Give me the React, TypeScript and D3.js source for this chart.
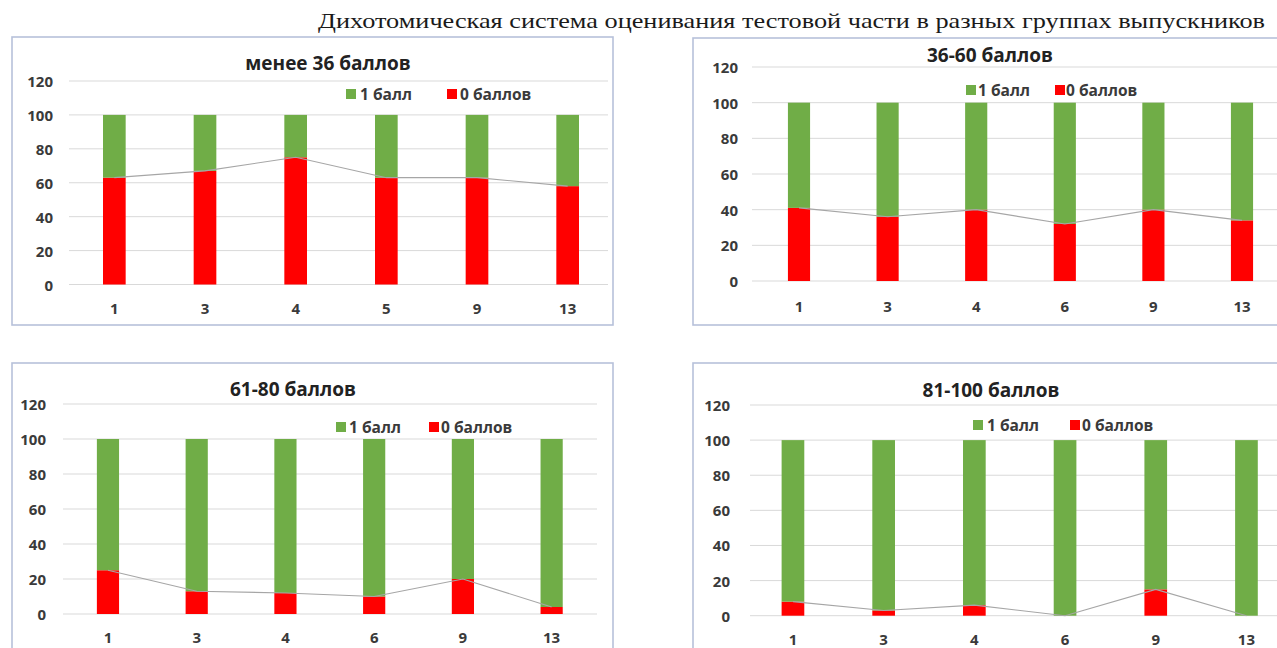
import React from "react";
import * as d3 from "d3";

// Task numbers shown on the x axis
const tasksA = ["1", "3", "4", "5", "9", "13"];
const tasksB = ["1", "3", "4", "6", "9", "13"];

// Group titles
const groupTitles = ["менее 36 баллов", "36-60 баллов", "61-80 баллов", "81-100 баллов"];

// Share of graduates (%) scoring 0 points per task
const zeroLt36 = [63, 67, 75, 63, 63, 58];
const zero36to60 = [41, 36, 40, 32, 40, 34];
const zero61to80 = [25, 13, 12, 10, 20, 4];
const zero81to100 = [8, 3, 6, 0, 15, 0];

// Share of graduates (%) scoring 1 point per task
const oneLt36 = [37, 33, 25, 37, 37, 42];
const one36to60 = [59, 64, 60, 68, 60, 66];
const one61to80 = [75, 87, 88, 90, 80, 96];
const one81to100 = [92, 97, 94, 100, 85, 100];

const yTicks = [0, 20, 40, 60, 80, 100, 120];
const legendLabels = ["1 балл", "0 баллов"];
const mainTitle = "Дихотомическая система оценивания тестовой части в разных группах выпускников";

const GREEN = "#70ad47";
const RED = "#ff0000";
const LABEL_FONT = "'Open Sans', 'Noto Sans', sans-serif";

interface PanelLayout {
  box: [number, number, number, number];
  plotX: [number, number];
  plotY: [number, number]; // y pixel of 0 and of 120
  gridX: [number, number];
  title: [number, number];
  yLabelX: number;
  xLabelY: number;
  legend: [number, number, number, number, number]; // green sq, green text, red sq, red text, y
}

const layouts: PanelLayout[] = [
  {
    box: [12, 37, 601, 288],
    plotX: [69, 613],
    plotY: [284.5, 81],
    gridX: [69, 608],
    title: [328, 63],
    yLabelX: 53,
    xLabelY: 308,
    legend: [346, 360, 447, 460, 94],
  },
  {
    box: [693, 38, 620, 287],
    plotX: [754.7, 1286.3],
    plotY: [281, 67],
    gridX: [752, 1277],
    title: [990, 55],
    yLabelX: 738,
    xLabelY: 306,
    legend: [966, 978, 1055, 1066, 90],
  },
  {
    box: [12, 363, 601, 320],
    plotX: [63.6, 596],
    plotY: [614, 404],
    gridX: [63, 597],
    title: [293, 389],
    yLabelX: 46,
    xLabelY: 637,
    legend: [336, 349, 429, 441, 427],
  },
  {
    box: [693, 363, 620, 320],
    plotX: [747.6, 1291.8],
    plotY: [615.7, 405],
    gridX: [750, 1277],
    title: [991, 390],
    yLabelX: 730,
    xLabelY: 639,
    legend: [973, 987, 1070, 1082, 425],
  },
];

const panels = [
  { title: groupTitles[0], tasks: tasksA, zero: zeroLt36, one: oneLt36 },
  { title: groupTitles[1], tasks: tasksB, zero: zero36to60, one: one36to60 },
  { title: groupTitles[2], tasks: tasksB, zero: zero61to80, one: one61to80 },
  { title: groupTitles[3], tasks: tasksB, zero: zero81to100, one: one81to100 },
];

function Panel({ data, layout }: { data: (typeof panels)[number]; layout: PanelLayout }) {
  const x = d3
    .scaleBand<string>()
    .domain(data.tasks)
    .range(layout.plotX)
    .paddingInner(0.75)
    .paddingOuter(0.375);
  const y = d3.scaleLinear().domain([0, 120]).range(layout.plotY);

  const rows = data.tasks.map((t, i) => ({ task: t, zero: data.zero[i], one: data.one[i] }));
  const stacked = d3.stack<any>().keys(["zero", "one"])(rows);

  const line = d3
    .line<any>()
    .x((d) => (x(d.task) as number) + x.bandwidth() / 2)
    .y((d) => y(d.zero));

  const [bx, by, bw, bh] = layout.box;
  const [gSq, gTx, rSq, rTx, ly] = layout.legend;

  const labelProps = {
    fontFamily: LABEL_FONT,
    fontWeight: 700,
    fill: "#3a3a3a",
    dominantBaseline: "central" as const,
  };

  return (
    <g>
      <rect x={bx} y={by} width={bw} height={bh} fill="#ffffff" stroke="#b7c1da" strokeWidth={1.6} />
      <text x={layout.title[0]} y={layout.title[1]} textAnchor="middle" fontSize={19} {...labelProps} fill="#222222">
        {data.title}
      </text>
      {/* gridlines */}
      {yTicks.map((t) => (
        <line
          key={t}
          x1={layout.gridX[0]}
          x2={layout.gridX[1]}
          y1={y(t)}
          y2={y(t)}
          stroke="#d9d9d9"
          strokeWidth={1}
        />
      ))}
      {yTicks.map((t) => (
        <text key={t} x={layout.yLabelX} y={y(t)} textAnchor="end" fontSize={15} {...labelProps}>
          {t}
        </text>
      ))}
      {/* stacked bars */}
      {stacked.map((series) => (
        <g key={series.key} fill={series.key === "zero" ? RED : GREEN}>
          {series.map((d: any, i: number) => (
            <rect
              key={i}
              x={x(d.data.task)}
              y={y(d[1])}
              width={x.bandwidth()}
              height={Math.max(0, y(d[0]) - y(d[1]))}
            />
          ))}
        </g>
      ))}
      {/* line through the 0-point tops */}
      <path d={line(rows) as string} fill="none" stroke="#a6a6a6" strokeWidth={1.1} />
      {data.tasks.map((t) => (
        <text
          key={t}
          x={(x(t) as number) + x.bandwidth() / 2}
          y={layout.xLabelY}
          textAnchor="middle"
          fontSize={15}
          {...labelProps}
        >
          {t}
        </text>
      ))}
      {/* legend */}
      <rect x={gSq} y={ly - 5} width={10} height={10} fill={GREEN} />
      <text x={gTx} y={ly} fontSize={15.5} {...labelProps}>
        {legendLabels[0]}
      </text>
      <rect x={rSq} y={ly - 5} width={10} height={10} fill={RED} />
      <text x={rTx} y={ly} fontSize={15.5} {...labelProps}>
        {legendLabels[1]}
      </text>
    </g>
  );
}

export default function App() {
  return (
    <svg
      width={1277}
      height={648}
      viewBox="0 0 1277 648"
      style={{ position: "absolute", left: 0, top: 0, background: "#ffffff" }}
    >
      <rect x={0} y={0} width={1277} height={648} fill="#ffffff" />
      <text
        x={318}
        y={21}
        dominantBaseline="central"
        fontFamily="'Liberation Serif', 'DejaVu Serif', serif"
        fontSize={21}
        fill="#1a1a1a"
        textLength={947}
        lengthAdjust="spacingAndGlyphs"
      >
        {mainTitle}
      </text>
      {panels.map((p, i) => (
        <Panel key={i} data={p} layout={layouts[i]} />
      ))}
    </svg>
  );
}
